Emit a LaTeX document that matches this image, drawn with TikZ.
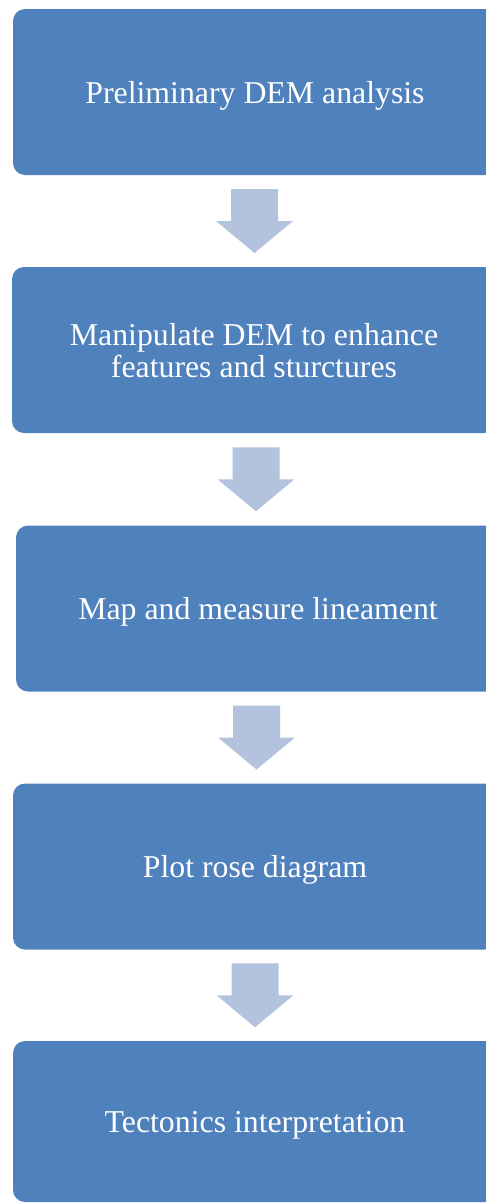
\documentclass[tikz,border=0pt]{standalone}
\usepackage{fontspec}
\setmainfont{Liberation Serif}
\usetikzlibrary{calc}
\definecolor{boxblue}{HTML}{4F81BD}
\definecolor{arrowblue}{HTML}{B3C3DD}

\begin{document}
\begin{tikzpicture}[x=1pt, y=-1pt,
    stepbox/.style={rectangle, rounded corners=12pt, fill=boxblue, text=white,
        minimum width=484pt, minimum height=166pt, inner sep=0pt, text depth=0pt,
        align=center, font=\fontsize{31.8}{32}\selectfont},
    blockarrow/.style={fill=arrowblue}]
    \useasboundingbox (0,0) rectangle (486,1203);
    \clip (0,0) rectangle (486,1203);

    \node[stepbox] (prelim) at (255, 92) {Preliminary DEM analysis};
    \node[stepbox] (manip) at (254, 350) {Manipulate DEM to enhance\\features and sturctures};
    \node[stepbox] (lineam) at (258, 608.5) {Map and measure lineament};
    \node[stepbox] (rose) at (255, 866.5) {Plot rose diagram};
    \node[stepbox, minimum height=161pt] (tecto) at (255, 1121.5) {Tectonics interpretation};

    \foreach \a/\b in {prelim/manip, manip/lineam, lineam/rose, rose/tecto} {
        \coordinate (m) at ($(\a.south)!0.5!(\b.north)$);
        \fill[blockarrow] ($(m)+(-23.5,-32)$) -- ($(m)+(23.5,-32)$) -- ($(m)+(23.5,0)$)
            -- ($(m)+(38.5,0)$) -- ($(m)+(0,32)$) -- ($(m)+(-38.5,0)$)
            -- ($(m)+(-23.5,0)$) -- cycle;
    }
\end{tikzpicture}
\end{document}
